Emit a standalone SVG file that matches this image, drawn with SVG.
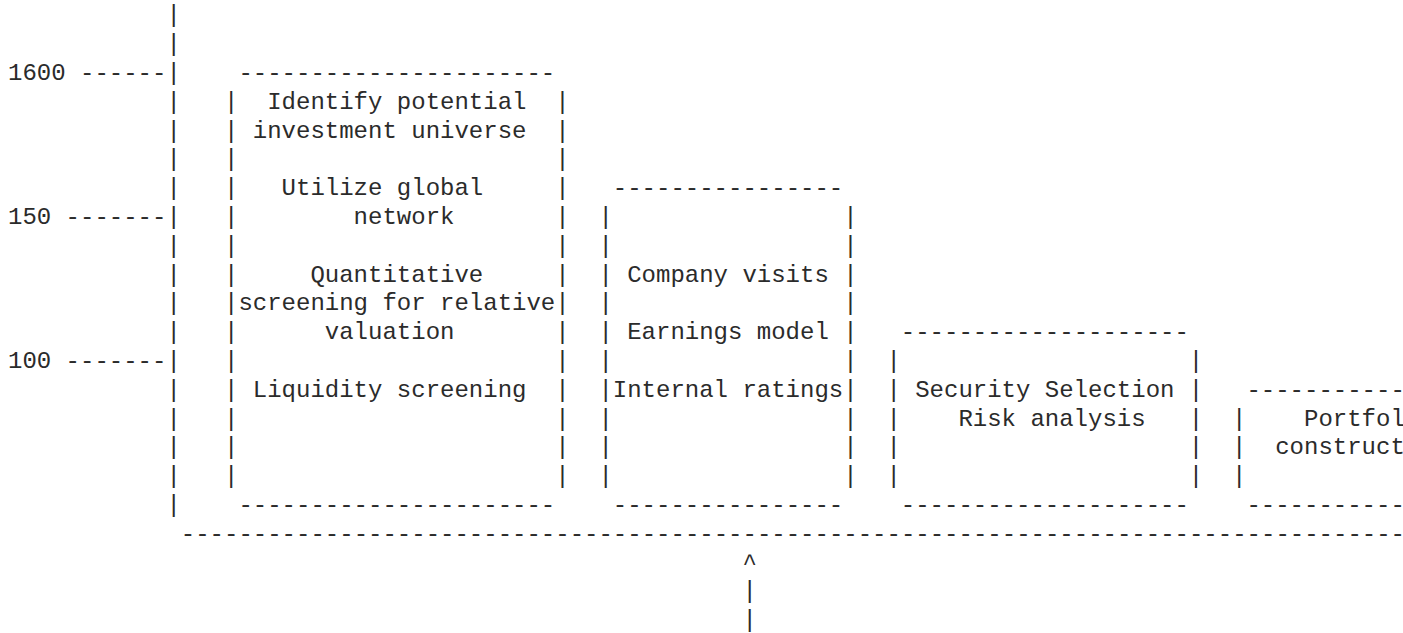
<svg xmlns="http://www.w3.org/2000/svg" width="1403" height="633" viewBox="0 0 1403 633" xml:space="preserve">
<style>
text { font-family: "Liberation Mono", "Courier New", monospace; font-size: 24px; fill: #2b2b2b; white-space: pre; }
</style>
<rect width="1403" height="633" fill="#fff"/>
<g id="connectors">
<text x="166.4" y="22.4">|</text>
<text x="166.4" y="51.2">|</text>
<text x="8" y="80">1600 ------|</text>
<text x="166.4" y="108.8">|</text>
<text x="166.4" y="137.6">|</text>
<text x="166.4" y="166.4">|</text>
<text x="166.4" y="195.2">|</text>
<text x="8" y="224">150 -------|</text>
<text x="166.4" y="252.8">|</text>
<text x="166.4" y="281.6">|</text>
<text x="166.4" y="310.4">|</text>
<text x="166.4" y="339.2">|</text>
<text x="8" y="368">100 -------|</text>
<text x="166.4" y="396.8">|</text>
<text x="166.4" y="425.6">|</text>
<text x="166.4" y="454.4">|</text>
<text x="166.4" y="483.2">|</text>
<text x="166.4" y="512">|</text>
<text x="180.8" y="540.8">-------------------------------------------------------------------------------------</text>
<text x="742.4" y="569.6">^</text>
<text x="742.4" y="598.4">|</text>
<text x="742.4" y="627.2">|</text>
</g>
<g id="node-universe">
<text x="238.4" y="80">----------------------</text>
<text x="224" y="108.8">|  Identify potential  |</text>
<text x="224" y="137.6">| investment universe  |</text>
<text x="224" y="166.4">|                      |</text>
<text x="224" y="195.2">|   Utilize global     |</text>
<text x="224" y="224">|        network       |</text>
<text x="224" y="252.8">|                      |</text>
<text x="224" y="281.6">|     Quantitative     |</text>
<text x="224" y="310.4">|screening for relative|</text>
<text x="224" y="339.2">|      valuation       |</text>
<text x="224" y="368">|                      |</text>
<text x="224" y="396.8">| Liquidity screening  |</text>
<text x="224" y="425.6">|                      |</text>
<text x="224" y="454.4">|                      |</text>
<text x="224" y="483.2">|                      |</text>
<text x="238.4" y="512">----------------------</text>
</g>
<g id="node-research">
<text x="612.8" y="195.2">----------------</text>
<text x="598.4" y="224">|                |</text>
<text x="598.4" y="252.8">|                |</text>
<text x="598.4" y="281.6">| Company visits |</text>
<text x="598.4" y="310.4">|                |</text>
<text x="598.4" y="339.2">| Earnings model |</text>
<text x="598.4" y="368">|                |</text>
<text x="598.4" y="396.8">|Internal ratings|</text>
<text x="598.4" y="425.6">|                |</text>
<text x="598.4" y="454.4">|                |</text>
<text x="598.4" y="483.2">|                |</text>
<text x="612.8" y="512">----------------</text>
</g>
<g id="node-selection">
<text x="900.8" y="339.2">--------------------</text>
<text x="886.4" y="368">|                    |</text>
<text x="886.4" y="396.8">| Security Selection |</text>
<text x="886.4" y="425.6">|    Risk analysis   |</text>
<text x="886.4" y="454.4">|                    |</text>
<text x="886.4" y="483.2">|                    |</text>
<text x="900.8" y="512">--------------------</text>
</g>
<g id="node-portfolio">
<text x="1246.4" y="396.8">-----------</text>
<text x="1232" y="425.6">|    Portfol</text>
<text x="1232" y="454.4">|  construct</text>
<text x="1232" y="483.2">|</text>
<text x="1246.4" y="512">-----------</text>
</g>
</svg>
